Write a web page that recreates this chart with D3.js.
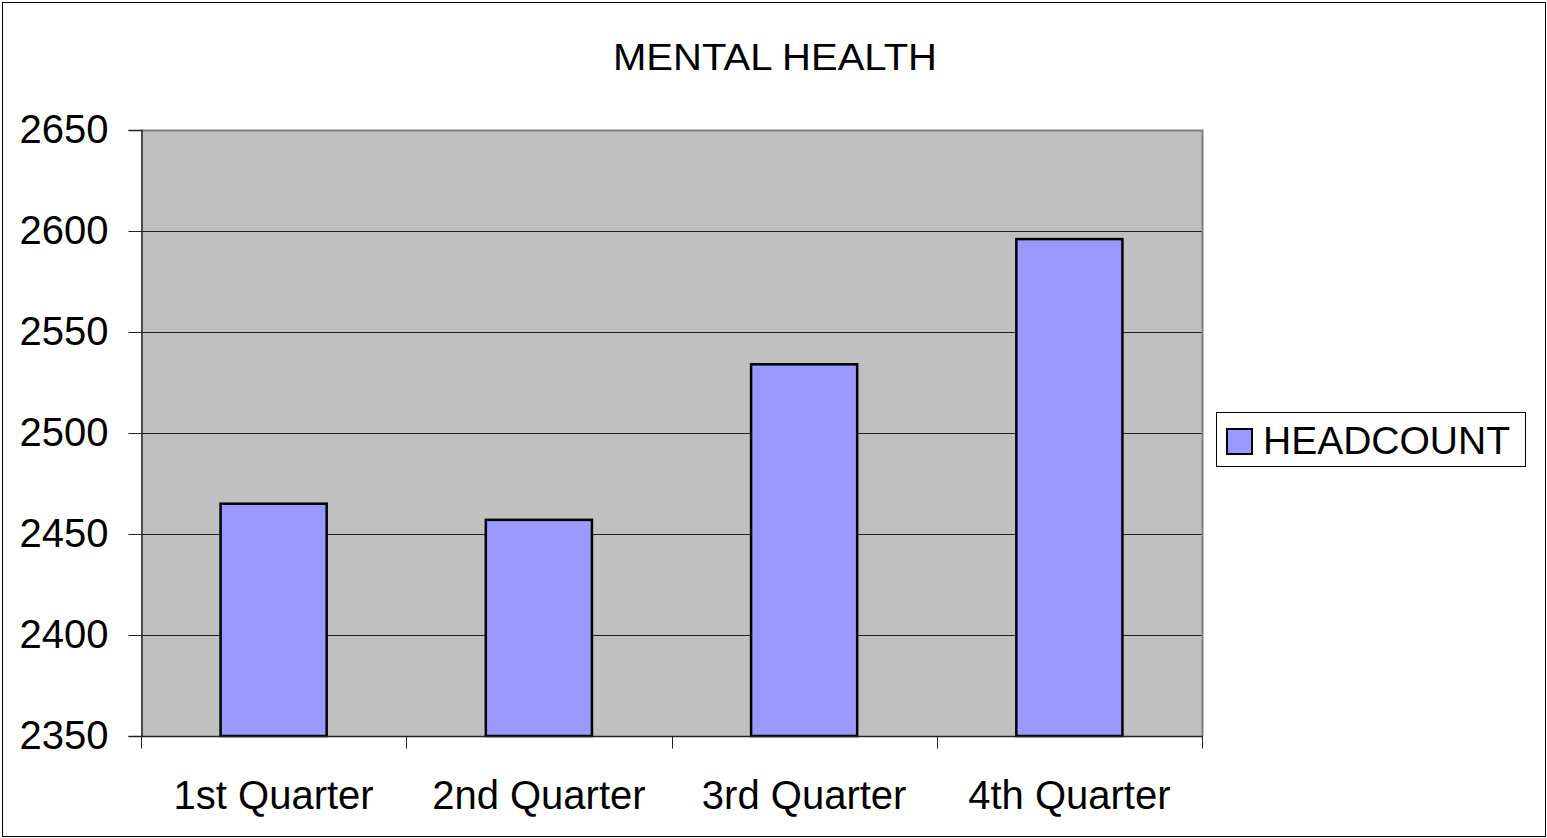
<!DOCTYPE html>
<html>
<head>
<meta charset="utf-8">
<script src="https://cdn.jsdelivr.net/npm/d3@7"></script>
<style>
body{margin:0;background:#fff;}
svg text{font-family:"Liberation Sans",Arial,sans-serif;fill:#000;}
</style>
</head>
<body>
<svg id="chart" width="1547" height="838"></svg>
<script>
var quarters = ['1st Quarter','2nd Quarter','3rd Quarter','4th Quarter'];
var headcount = [2465, 2457, 2534, 2596];
var yTicks = [2350, 2400, 2450, 2500, 2550, 2600, 2650];
var seriesName = 'HEADCOUNT';
var chartTitle = 'MENTAL HEALTH';

var svg = d3.select('#chart');
var m = {left:141, top:130, right:1202, bottom:736};

// outer frame
svg.append('rect')
	.attr('x',2.5).attr('y',2.5).attr('width',1543).attr('height',834)
	.attr('fill','#fff').attr('stroke','#000').attr('stroke-width',1);

var x = d3.scaleBand()
	.domain(quarters)
	.range([m.left, m.right])
	.paddingInner(0.6)
	.paddingOuter(0.3);
var y = d3.scaleLinear()
	.domain([2350, 2650])
	.range([m.bottom, m.top]);

// plot area
svg.append('rect')
	.attr('x',m.left).attr('y',m.top)
	.attr('width',m.right-m.left).attr('height',m.bottom-m.top)
	.attr('fill','#c0c0c0');

// gridlines
svg.selectAll('.grid')
	.data(yTicks.slice(1,-1))
	.enter()
	.append('line')
	.attr('class','grid')
	.attr('x1',m.left).attr('x2',m.right)
	.attr('y1',function(d){ return Math.round(y(d))+0.5; })
	.attr('y2',function(d){ return Math.round(y(d))+0.5; })
	.attr('stroke','#222').attr('stroke-width',1);

// top and right border of plot
svg.append('path')
	.attr('d','M'+m.left+','+(m.top+0.5)+'H'+(m.right+0.5)+'V'+m.bottom)
	.attr('fill','none').attr('stroke','#808080').attr('stroke-width',2);

// bars
svg.selectAll('.bar')
	.data(headcount)
	.enter()
	.append('rect')
	.attr('class','bar')
	.attr('x',function(d,i){ return x(quarters[i]); })
	.attr('width',x.bandwidth())
	.attr('y',function(d){ return y(d); })
	.attr('height',function(d){ return y(2350)-y(d); })
	.attr('fill','#9999ff')
	.attr('stroke','#000')
	.attr('stroke-width',2.5);

// y axis
var yAxis = svg.append('g')
	.attr('transform','translate('+(m.left+0.5)+',0)')
	.call(d3.axisLeft(y).tickValues(yTicks).tickSize(13).tickPadding(20).tickFormat(d3.format('d')));
yAxis.select('.domain').attr('stroke','#222').attr('stroke-width',1.5);
yAxis.selectAll('.tick line').attr('stroke','#222');
yAxis.selectAll('text').attr('font-size',40).attr('font-family','"Liberation Sans",Arial,sans-serif').attr('fill','#000');

// x axis
var boundaries = d3.range(quarters.length+1).map(function(i){ return m.left + i*(m.right-m.left)/quarters.length; });
var xAxis = svg.append('g').attr('transform','translate(0,'+(m.bottom+0.5)+')');
xAxis.append('line')
	.attr('x1',m.left).attr('x2',m.right+1)
	.attr('stroke','#222').attr('stroke-width',1.5);
xAxis.selectAll('.xt')
	.data(boundaries)
	.enter()
	.append('line')
	.attr('x1',function(d){ return Math.round(d)+0.5; })
	.attr('x2',function(d){ return Math.round(d)+0.5; })
	.attr('y1',0).attr('y2',12)
	.attr('stroke','#222');
xAxis.selectAll('.xl')
	.data(quarters)
	.enter()
	.append('text')
	.attr('x',function(d){ return x(d)+x.bandwidth()/2; })
	.attr('y',72)
	.attr('text-anchor','middle')
	.attr('font-size',40)
	.text(function(d){ return d; });

// title
svg.append('text')
	.attr('x',775).attr('y',70)
	.attr('text-anchor','middle')
	.attr('font-size',36)
	.attr('textLength',324)
	.attr('lengthAdjust','spacingAndGlyphs')
	.text(chartTitle);

// legend
var lg = svg.append('g').attr('transform','translate(1216,412)');
lg.append('rect')
	.attr('x',0.5).attr('y',0.5).attr('width',309).attr('height',54)
	.attr('fill','#fff').attr('stroke','#000').attr('stroke-width',1);
lg.append('rect')
	.attr('x',11).attr('y',17).attr('width',25).attr('height',25)
	.attr('fill','#9999ff').attr('stroke','#000').attr('stroke-width',2);
lg.append('text')
	.attr('x',47).attr('y',42)
	.attr('font-size',39)
	.text(seriesName);
</script>
</body>
</html>
